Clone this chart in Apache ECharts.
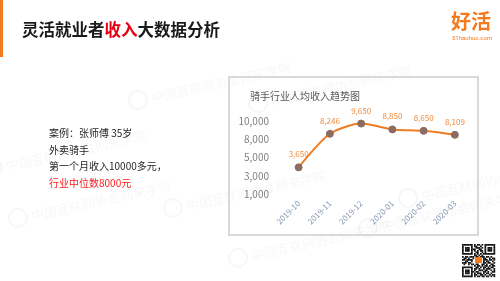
<!DOCTYPE html>
<html><head><meta charset="utf-8">
<script src="https://cdn.jsdelivr.net/npm/echarts@6/dist/echarts.min.js"></script>
<style>html,body{margin:0;padding:0;background:#fff;}#c{width:500px;height:281px;}</style>
</head><body><div id="c"></div>
<script>
var categories = ['2019-10','2019-11','2019-12','2020-01','2020-02','2020-03'];
var income = [3650, 8246, 9650, 8850, 8650, 8109];
var yTickLabels = ['1,000','3,000','5,000','8,000','10,000'];
var caseLines = ['案例：张师傅 35岁','外卖骑手','第一个月收入10000多元，'];
var caseHighlight = '行业中位数8000元';

var font = '"Noto Sans CJK SC","Noto Sans",sans-serif';
var chart = echarts.init(document.getElementById('c'), null, {renderer:'canvas'});

var g = [];
// orange bar
g.push({type:'rect', shape:{x:0,y:0,width:3,height:57}, style:{fill:'#F47A20'}, z:10});
// title
g.push({type:'text', left:22, top:21, style:{rich:{a:{fill:'#1a1a1a',fontSize:16.5,fontWeight:'bold',fontFamily:font},b:{fill:'#E60012',fontSize:16.5,fontWeight:'bold',fontFamily:font}}, text:'{a|灵活就业者}{b|收入}{a|大数据分析}'}, z:10});
// logo
g.push({type:'text', left:451, top:11, style:{text:'好活', fill:'#F47A20', fontSize:20, fontWeight:'bold', fontFamily:font}, z:10});
g.push({type:'text', left:452, top:35, style:{text:'51haohuo.com', fill:'#F47A20', fontSize:6, fontFamily:'Roboto,sans-serif'}, z:10});
// watermarks
var wm = [[150,92],[30,210],[185,200],[270,95],[250,250],[380,220],[5,160],[420,190]];
wm.forEach(function(p){
  g.push({type:'text', x:p[0], y:p[1], rotation:0.22, style:{text:'中国互联网协会网来学院', fill:'rgba(0,0,0,0.035)', fontSize:13, fontFamily:font}, z:1});
  g.push({type:'circle', shape:{cx:p[0]-12, cy:p[1]+8, r:9}, style:{fill:'none', stroke:'rgba(0,0,0,0.035)', lineWidth:2}, z:1});
});
// case text
caseLines.forEach(function(t,i){
  g.push({type:'text', left:49, top:128+i*16.8, style:{text:t, fill:'#262626', fontSize:10, fontFamily:font}, z:10});
});
g.push({type:'text', left:49, top:178.5, style:{text:caseHighlight, fill:'#FF1A1A', fontSize:10, fontFamily:font}, z:10});
// chart box
g.push({type:'rect', shape:{x:229,y:77,width:249,height:158}, style:{fill:'none', stroke:'#D9D9D9', lineWidth:2}, z:2});
// QR code
var qx=462, qy=244, m=1.5;
var qr = [
'1111111010110101111111',
'1000001011001001000001',
'1011101001110101011101',
'1011101110011001011101',
'1011101010101101011101',
'1000001001100101000001',
'1111111010101011111111',
'0000000011010100000000',
'1011011101101110110100',
'0110100100110011001011',
'1101111000000011101101',
'0011001000000010110010',
'1110110000000011011001',
'0100101101100110100110',
'0000000010110101101011',
'1111111001101011010110',
'1000001011010010111001',
'1011101010011101100101',
'1011101101100011010011',
'1011101010111010110100',
'1000001011001101001011',
'1111111010110110110101'];
qr.forEach(function(row,r){
  for(var c=0;c<row.length;c++){ if(row[c]==='1') g.push({type:'rect', shape:{x:qx+c*m, y:qy+r*m, width:m+0.2, height:m+0.2}, style:{fill:'#111'}, z:10}); }
});
g.push({type:'rect', shape:{x:qx+13,y:qy+13,width:7,height:6}, style:{fill:'#F47A20'}, z:11});

chart.setOption({
  backgroundColor:'#fff',
  animation:false,
  title:{text:'骑手行业人均收入趋势图', left:245, top:86, textStyle:{fontSize:10, color:'#595959', fontWeight:'normal', fontFamily:font}},
  grid:{left:283, right:29.5, top:121, bottom:87, containLabel:false},
  xAxis:{type:'category', data:categories, boundaryGap:true,
    axisLine:{show:false}, axisTick:{show:false},
    axisLabel:{rotate:45, fontSize:8, color:'#8497B0', margin:8, fontFamily:font}},
  yAxis:{type:'value', min:0, max:10000, interval:2500,
    axisLine:{show:false}, axisTick:{show:false}, splitLine:{show:false},
    axisLabel:{fontSize:10, color:'#7F7F7F', margin:14, fontFamily:font,
      formatter:function(v){ return yTickLabels[Math.round(v/2500)]; }}},
  series:[{type:'line', data:income, smooth:0.25,
    lineStyle:{color:'#F07C22', width:2},
    symbol:'circle', symbolSize:7,
    itemStyle:{color:'#8C6B63', borderColor:'#8C6B63'},
    label:{show:true, position:'top', distance:5, fontSize:8, color:'#F08A3C', fontFamily:font,
      formatter:function(p){ return p.value.toLocaleString('en-US'); }}}],
  graphic:g
});
</script></body></html>
